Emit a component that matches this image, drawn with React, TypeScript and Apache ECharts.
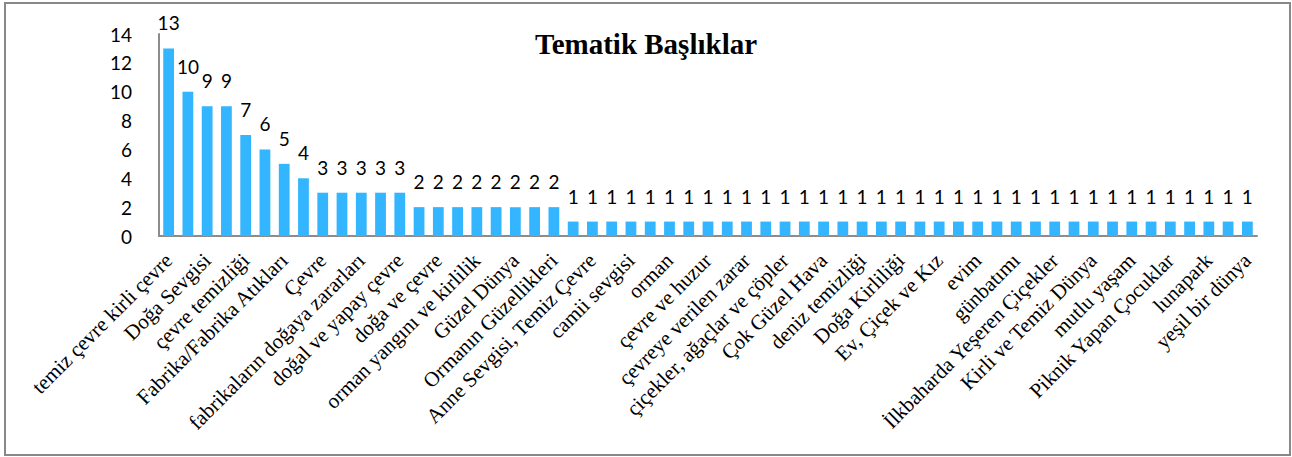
import React, { useEffect, useRef } from "react";
import * as echarts from "echarts";

const titleText = "Tematik Başlıklar";

// Visible labels sit on even positions; the odd positions have no visible label in the reference.
const visibleLabels = [
  "temiz çevre kirli çevre",
  "Doğa Sevgisi",
  "çevre temizliği",
  "Fabrika/Fabrika Atıkları",
  "Çevre",
  "fabrikaların doğaya zararları",
  "doğal ve yapay çevre",
  "doğa ve çevre",
  "orman yangını ve kirlilik",
  "Güzel Dünya",
  "Ormanın Güzellikleri",
  "Anne Sevgisi, Temiz Çevre",
  "camii sevgisi",
  "orman",
  "çevre ve huzur",
  "çevreye verilen zarar",
  "çiçekler, ağaçlar ve çöpler",
  "Çok Güzel Hava",
  "deniz temizliği",
  "Doğa Kirliliği",
  "Ev, Çiçek ve Kız",
  "evim",
  "günbatımı",
  "İlkbaharda Yeşeren Çiçekler",
  "Kirli ve Temiz Dünya",
  "mutlu yaşam",
  "Piknik Yapan Çocuklar",
  "lunapark",
  "yeşil bir dünya",
];

const values = [
  13, 10, 9, 9, 7, 6, 5, 4,
  3, 3, 3, 3, 3,
  2, 2, 2, 2, 2, 2, 2, 2,
  1, 1, 1, 1, 1, 1, 1, 1, 1, 1, 1, 1, 1, 1, 1, 1, 1, 1,
  1, 1, 1, 1, 1, 1, 1, 1, 1, 1, 1, 1, 1, 1, 1, 1, 1, 1,
];

const categories: string[] = values.map((_, i) =>
  i % 2 === 0 ? visibleLabels[i / 2] : ""
);

const yTicks = { min: 0, max: 14, interval: 2 };

export default function App() {
  const ref = useRef<HTMLDivElement>(null);
  useEffect(() => {
    if (!ref.current) return;
    const chart = echarts.init(ref.current, undefined, { renderer: "svg" });
    chart.setOption({
      animation: false,
      backgroundColor: "#ffffff",
      title: {
        text: titleText,
        left: "center",
        top: 24,
        textStyle: {
          fontFamily: "Liberation Serif",
          fontWeight: "bold",
          fontSize: 29,
          color: "#000000",
        },
      },
      graphic: [
        {
          type: "rect",
          shape: { x: 5, y: 3, width: 1285, height: 452 },
          style: { fill: "none", stroke: "#888888", lineWidth: 2 },
          silent: true,
        },
      ],
      grid: { left: 159, right: 35, top: 34, bottom: 221 },
      xAxis: {
        type: "category",
        data: categories,
        axisLine: { show: true, lineStyle: { color: "#8c8c8c", width: 2 } },
        axisTick: { show: false },
        axisLabel: {
          interval: 1,
          rotate: 45,
          margin: 21,
          fontFamily: "Liberation Serif",
          fontSize: 21,
          color: "#000000",
        },
      },
      yAxis: {
        type: "value",
        min: yTicks.min,
        max: yTicks.max,
        interval: yTicks.interval,
        splitLine: { show: false },
        axisLine: { show: true, lineStyle: { color: "#8c8c8c", width: 2 } },
        axisTick: { show: false },
        axisLabel: {
          margin: 27,
          fontFamily: "Lato",
          fontSize: 19,
          color: "#000000",
        },
      },
      series: [
        {
          type: "bar",
          data: values,
          barCategoryGap: "44%",
          itemStyle: { color: "#33B5FF" },
          label: {
            show: true,
            position: "top",
            distance: 16,
            fontFamily: "Lato",
            fontSize: 19,
            color: "#000000",
          },
        },
      ],
    });
    return () => chart.dispose();
  }, []);
  return (
    <div
      ref={ref}
      style={{ position: "absolute", left: 0, top: 0, width: 1292, height: 457 }}
    />
  );
}
